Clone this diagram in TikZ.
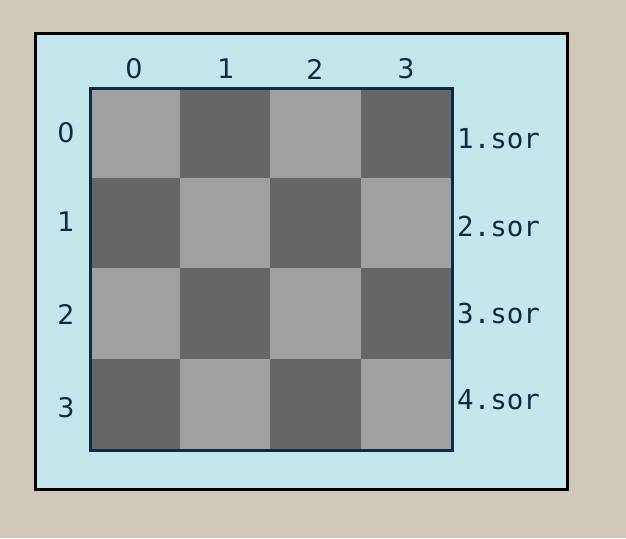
\documentclass[tikz,border=0pt]{standalone}
\usepackage{fontspec}
\newfontfamily\numfont{DejaVu Sans}
\newfontfamily\monofont{DejaVu Sans Mono}
\definecolor{bgbeige}{HTML}{D0C8B8}
\definecolor{panel}{HTML}{C4E6EA}
\definecolor{lightcell}{HTML}{A0A0A0}
\definecolor{darkcell}{HTML}{666666}
\definecolor{ink}{HTML}{0A2D45}
\begin{document}
\begin{tikzpicture}[x=1pt,y=-1pt,
  numlabel/.style={text=ink,font=\numfont\fontsize{27}{27}\selectfont,inner sep=0pt},
  sorlabel/.style={text=ink,font=\monofont\fontsize{27.5}{27.5}\selectfont,inner sep=0pt,anchor=west},
  cell/.style={inner sep=0pt,minimum width=90.5pt,minimum height=90.5pt,draw=none}]
\fill[bgbeige] (0,0) rectangle (626,538);
\useasboundingbox (0,0) rectangle (626,538);
\node[draw=black,line width=3pt,fill=panel,minimum width=532pt,minimum height=456pt,inner sep=0pt] (panel) at (301,261) {};
\foreach \r in {0,1,2,3}{
  \foreach \c in {0,1,2,3}{
    \pgfmathtruncatemacro{\parity}{mod(\r+\c,2)}
    \ifnum\parity=0 \def\cc{lightcell}\else\def\cc{darkcell}\fi
    \node[cell,fill=\cc] (c\r\c) at ({89+90.5*\c+45.25},{87+90.5*\r+45.25}) {};
  }
}
\node[draw=ink,line width=3pt,minimum width=362pt,minimum height=362pt,inner sep=0pt] (board) at (271,269) {};
\node[numlabel] (t0) at (134,69) {0};
\node[numlabel] (t1) at (226,69) {1};
\node[numlabel] (t2) at (315,69) {2};
\node[numlabel] (t3) at (406,69) {3};
\node[numlabel] (l0) at (66,133) {0};
\node[numlabel] (l1) at (66,222) {1};
\node[numlabel] (l2) at (66,314) {2};
\node[numlabel] (l3) at (66,408) {3};
\node[sorlabel] (s1) at (457,139) {1.sor};
\node[sorlabel] (s2) at (457,226) {2.sor};
\node[sorlabel] (s3) at (457,313) {3.sor};
\node[sorlabel] (s4) at (457,400) {4.sor};
\end{tikzpicture}
\end{document}
